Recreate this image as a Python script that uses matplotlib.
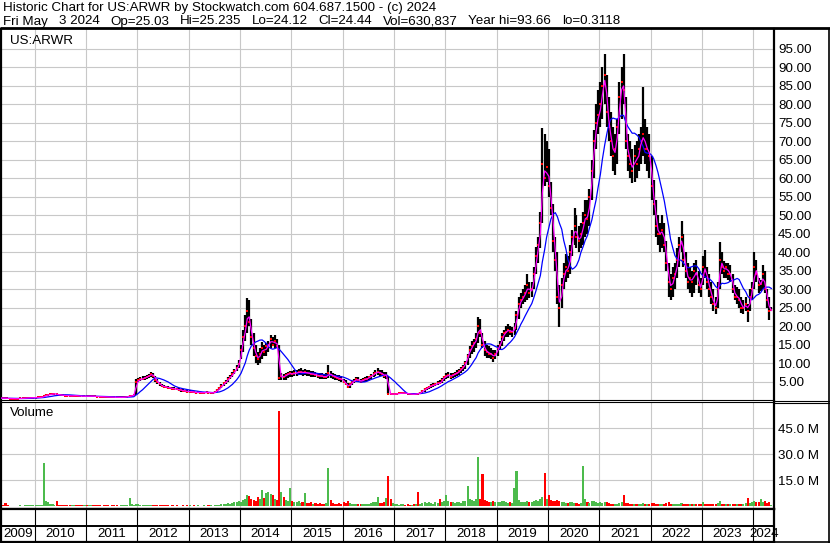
import numpy as np
import pandas as pd
import matplotlib
matplotlib.use("Agg")
import matplotlib.pyplot as plt
from matplotlib.lines import Line2D

# ---------------- data (semi-monthly bars) ----------------
start_date = "2009-05-01"

close = [
    # 2009 (May-Dec)
    0.50, 0.48, 0.45, 0.42, 0.40, 0.38, 0.36, 0.35, 0.38, 0.42, 0.45, 0.50, 0.55, 0.58, 0.60, 0.62,
    # 2010
    0.65, 0.70, 0.72, 0.75, 1.00, 1.30, 1.40, 1.50, 1.65, 1.70, 1.50, 1.40, 1.30, 1.25, 1.20, 1.15, 1.10, 1.12, 1.20, 1.15, 1.10, 1.05, 1.00, 1.02,
    # 2011
    1.00, 1.02, 1.05, 1.00, 0.95, 0.92, 0.90, 0.88, 0.85, 0.82, 0.80, 0.80, 0.78, 0.75, 0.72, 0.70, 0.70, 0.72, 0.80, 0.90, 1.10, 1.20, 1.30, 5.00,
    # 2012
    5.30, 5.60, 5.80, 6.00, 6.30, 6.50, 7.00, 6.60, 5.50, 4.80, 4.20, 3.80, 3.60, 3.50, 3.30, 3.20, 3.10, 3.00, 2.90, 2.80, 2.60, 2.50, 2.40, 2.30,
    # 2013
    2.30, 2.20, 2.10, 2.00, 2.10, 2.00, 1.95, 2.00, 2.10, 2.00, 2.00, 1.90, 2.20, 2.60, 3.20, 3.80, 4.50, 5.00, 5.70, 6.30, 7.00, 7.80, 8.60, 9.80,
    # 2014
    13.5, 17.0, 20.0, 24.0, 21.0, 17.0, 14.0, 12.0, 11.0, 12.5, 14.0, 13.0, 14.5, 15.0, 16.5, 15.0, 16.0, 14.5, 6.0, 6.5, 6.2, 6.8, 7.0, 7.2,
    # 2015
    7.0, 7.2, 7.4, 7.5, 7.6, 7.4, 7.5, 7.3, 7.2, 7.0, 7.0, 6.8, 6.6, 6.5, 6.4, 6.3, 6.3, 7.2, 6.8, 6.5, 6.2, 6.0, 5.8, 5.6,
    # 2016
    5.0, 4.3, 3.6, 4.2, 4.8, 5.2, 5.6, 5.4, 5.0, 5.4, 5.6, 5.8, 6.2, 6.5, 7.0, 7.4, 7.6, 7.3, 7.0, 6.5, 6.8, 1.7, 1.6, 1.6,
    # 2017
    1.6, 1.7, 1.8, 1.8, 1.9, 1.8, 1.7, 1.6, 1.6, 1.5, 1.75, 1.7, 2.0, 2.4, 2.9, 3.2, 3.6, 3.9, 4.0, 4.2, 4.6, 4.5, 5.5, 6.2,
    # 2018
    6.5, 6.8, 6.3, 6.8, 7.0, 7.3, 7.8, 8.4, 9.0, 10.0, 12.0, 13.5, 14.5, 15.5, 16.5, 20.0, 18.0, 15.0, 13.5, 13.0, 12.5, 12.5, 11.5, 12.5,
    # 2019
    14.0, 15.0, 17.0, 18.0, 18.5, 19.0, 18.5, 18.5, 19.5, 23.0, 26.0, 27.0, 28.0, 29.0, 31.0, 29.0, 30.0, 34.0, 39.0, 42.0, 48.0, 64.0, 60.0, 63.0,
    # 2020
    58, 52, 43, 38, 28, 25, 31, 34, 36, 35, 40, 44, 47, 44, 43, 45, 48, 50, 49, 55, 62, 70, 75, 77,
    # 2021
    80, 85, 88, 78, 74, 70, 66, 68, 74, 82, 86, 84, 70, 66, 64, 62, 66, 64, 68, 70, 72, 68, 68, 66,
    # 2022
    58, 53, 47, 45, 45, 46, 42, 37, 32, 30, 33, 34, 38, 42, 44, 38, 35, 32, 33, 32, 35, 34, 31, 30,
    # 2023
    36, 35, 32, 30, 28, 26, 25, 30, 38, 36, 35, 36, 34, 34, 30, 28, 28, 27, 25, 25, 26, 24, 28, 30,
    # 2024 (Jan-May)
    36, 34, 31, 31.5, 34, 30, 27, 24, 24.44,
]

high = [
    0.56, 0.54, 0.50, 0.47, 0.45, 0.43, 0.40, 0.40, 0.44, 0.48, 0.52, 0.56, 0.62, 0.65, 0.67, 0.70,
    0.72, 0.76, 0.78, 0.82, 1.20, 1.50, 1.55, 1.65, 1.80, 1.85, 1.75, 1.55, 1.45, 1.38, 1.32, 1.28, 1.22, 1.25, 1.32, 1.28, 1.22, 1.16, 1.12, 1.12,
    1.10, 1.12, 1.15, 1.10, 1.05, 1.02, 1.00, 0.98, 0.95, 0.92, 0.90, 0.90, 0.88, 0.85, 0.82, 0.80, 0.80, 0.82, 0.92, 1.05, 1.25, 1.35, 1.45, 5.80,
    6.00, 6.20, 6.40, 6.60, 6.90, 7.10, 7.50, 7.20, 6.60, 5.60, 4.90, 4.40, 4.10, 3.90, 3.70, 3.60, 3.50, 3.40, 3.30, 3.20, 3.00, 2.90, 2.80, 2.70,
    2.60, 2.50, 2.40, 2.30, 2.40, 2.30, 2.25, 2.30, 2.40, 2.30, 2.30, 2.20, 2.50, 2.90, 3.60, 4.20, 5.00, 5.50, 6.30, 6.90, 7.70, 8.50, 9.50, 10.80,
    15.0, 19.0, 23.0, 27.7, 27.0, 22.0, 18.0, 15.0, 13.0, 14.0, 15.8, 15.0, 15.5, 16.0, 17.6, 17.0, 17.5, 16.5, 15.0, 7.3, 7.0, 7.3, 7.5, 7.8,
    7.8, 8.0, 8.2, 8.4, 8.6, 8.2, 8.3, 8.1, 8.0, 7.8, 7.8, 7.6, 7.4, 7.3, 7.2, 7.0, 7.2, 9.5, 7.8, 7.4, 7.1, 6.9, 6.7, 6.5,
    5.8, 5.4, 4.5, 4.6, 5.2, 5.8, 6.2, 6.2, 5.8, 6.0, 6.2, 6.4, 6.6, 7.0, 7.6, 8.0, 8.6, 8.2, 8.0, 7.6, 7.5, 6.6, 2.0, 1.9,
    1.9, 2.0, 2.0, 2.1, 2.1, 2.0, 1.9, 1.9, 1.8, 1.8, 1.9, 1.9, 2.2, 2.6, 3.2, 3.5, 3.9, 4.2, 4.5, 4.6, 5.2, 5.4, 6.0, 6.6,
    7.2, 7.5, 7.2, 7.4, 7.6, 8.0, 8.5, 9.0, 9.6, 10.5, 12.5, 14.5, 16.0, 16.5, 18.0, 22.5, 22.0, 18.0, 16.0, 15.0, 14.5, 14.0, 13.5, 13.5,
    15.0, 16.0, 18.0, 19.0, 20.0, 20.5, 20.0, 19.8, 20.8, 24.0, 28.0, 29.0, 30.0, 31.0, 34.0, 32.0, 32.0, 36.0, 41.4, 44.0, 51.0, 73.7, 72.0, 70.0,
    68, 59, 53, 44, 40, 31, 33, 37, 39.5, 39, 42, 46, 52, 50, 47, 48, 51, 54, 54, 57, 65, 73, 80, 84,
    86, 90, 93.66, 88, 82, 78, 74, 72, 76, 86, 90, 93.5, 82, 72, 70, 68, 69, 70, 72, 74, 84.7, 76, 74, 72,
    66, 59.5, 54, 50, 48, 50, 48, 43, 37, 34, 36, 37, 41, 44, 48.5, 45, 40, 37, 36, 35, 37, 38, 35, 33,
    39, 40.5, 36, 34, 32, 30, 28, 32, 42.8, 40, 37.5, 37, 37, 36.5, 34, 31, 30.5, 30, 28, 27, 28, 26, 30, 32,
    40.1, 38, 33, 32.4, 36.5, 35, 30, 27.8, 25.235,
]

low = [
    0.44, 0.42, 0.40, 0.37, 0.35, 0.33, 0.3118, 0.32, 0.34, 0.37, 0.40, 0.45, 0.49, 0.52, 0.54, 0.56,
    0.60, 0.64, 0.66, 0.70, 0.74, 1.00, 1.25, 1.35, 1.45, 1.55, 1.40, 1.30, 1.20, 1.15, 1.10, 1.05, 1.00, 1.02, 1.08, 1.05, 1.00, 0.95, 0.92, 0.93,
    0.92, 0.94, 0.96, 0.92, 0.88, 0.85, 0.83, 0.80, 0.78, 0.75, 0.73, 0.72, 0.70, 0.68, 0.65, 0.63, 0.63, 0.65, 0.70, 0.80, 0.95, 1.08, 1.18, 1.40,
    4.80, 5.10, 5.30, 5.50, 5.80, 6.00, 6.30, 6.00, 5.00, 4.40, 3.90, 3.50, 3.30, 3.20, 3.00, 2.90, 2.80, 2.70, 2.60, 2.50, 2.30, 2.20, 2.10, 2.00,
    2.00, 1.90, 1.80, 1.70, 1.80, 1.70, 1.65, 1.70, 1.80, 1.70, 1.70, 1.60, 1.80, 2.20, 2.70, 3.20, 3.90, 4.40, 5.00, 5.60, 6.30, 7.00, 7.80, 8.60,
    11.0, 13.0, 16.0, 18.0, 20.0, 15.0, 12.0, 10.0, 9.5, 10.0, 11.0, 12.0, 12.0, 13.0, 14.0, 14.5, 14.0, 14.0, 5.4, 5.5, 5.4, 5.5, 6.0, 6.2,
    6.2, 6.5, 6.6, 6.8, 6.8, 6.6, 6.7, 6.5, 6.4, 6.2, 6.2, 6.1, 5.9, 5.8, 5.7, 5.6, 5.7, 6.0, 6.0, 5.8, 5.5, 5.3, 5.1, 5.0,
    4.5, 4.0, 3.2, 3.3, 4.0, 4.5, 4.8, 5.0, 4.6, 4.8, 5.0, 5.2, 5.4, 5.6, 6.2, 6.5, 6.8, 6.5, 6.5, 6.0, 5.8, 1.5, 1.4, 1.4,
    1.4, 1.5, 1.5, 1.6, 1.6, 1.6, 1.5, 1.5, 1.4, 1.4, 1.4, 1.5, 1.6, 1.9, 2.3, 2.7, 3.0, 3.3, 3.6, 3.8, 4.0, 4.2, 4.5, 5.2,
    5.8, 6.0, 5.8, 6.0, 6.2, 6.5, 6.8, 7.3, 7.8, 8.5, 9.5, 11.5, 12.5, 13.0, 14.0, 15.5, 17.0, 14.0, 12.0, 11.5, 11.5, 11.0, 10.4, 11.0,
    12.0, 13.5, 14.5, 16.0, 17.0, 17.0, 17.5, 17.0, 17.5, 19.0, 22.0, 25.0, 26.0, 26.5, 27.0, 27.5, 28.0, 30.0, 34.0, 37.0, 41.0, 48.0, 58.0, 59.0,
    55, 50, 40, 35, 26, 19.7, 25, 30, 32, 33, 34, 39, 42, 41, 40, 41, 42, 44, 45, 47, 54, 60, 68, 72,
    74, 76, 80, 74, 70, 66, 62, 61, 64, 72, 76, 80, 68, 62, 60, 58.6, 59, 60, 62, 64, 66, 64, 62, 60,
    54, 50, 44, 42, 40, 41, 40, 35, 28, 27, 28, 30, 33, 36, 40, 36, 33, 30, 29, 28, 29, 31, 29, 28,
    31, 33, 30, 28, 26, 24, 23.4, 25, 30, 34, 33, 33, 32.5, 32, 29, 27, 26, 25, 23.5, 23.4, 24, 21, 24, 27,
    30, 32, 29, 29.5, 30, 29, 25, 21.6, 24.12,
]

volume_m = [
    0.5, 0.6, 1.7, 0.5, 0.4, 0.4, 0.3, 0.3, 0.4, 0.5, 0.4, 0.5, 0.6, 0.5, 0.5, 0.6,
    0.6, 0.7, 0.6, 0.8, 24.8, 3.0, 2.5, 1.5, 1.2, 1.0, 3.0, 1.0, 0.8, 0.7, 0.6, 0.8, 0.6, 0.5, 0.7, 0.6, 0.5, 0.6, 0.5, 0.6,
    0.5, 0.6, 0.5, 0.7, 0.5, 0.6, 0.5, 0.4, 0.5, 0.6, 0.5, 0.4, 0.5, 0.6, 0.5, 0.4, 0.5, 0.6, 0.8, 0.9, 4.6, 1.2, 1.0, 1.5,
    1.2, 0.8, 0.7, 0.6, 0.8, 0.7, 0.9, 0.6, 0.7, 0.5, 0.6, 0.5, 0.5, 0.6, 0.5, 0.4, 0.5, 0.4, 0.5, 0.4, 0.4, 0.5, 0.4, 0.5,
    0.5, 0.4, 0.5, 0.4, 0.5, 0.4, 0.4, 0.5, 0.4, 0.5, 0.5, 0.4, 0.7, 0.9, 1.0, 1.2, 1.5, 1.4, 1.8, 1.6, 2.0, 2.4, 2.2, 2.8,
    2.5, 3.5, 4.5, 6.5, 6.0, 4.5, 3.5, 3.0, 5.6, 4.0, 9.4, 5.0, 7.5, 8.1, 7.1, 6.5, 4.0, 3.5, 55.0, 8.0, 5.6, 3.5, 3.0, 10.4,
    3.0, 2.5, 2.2, 2.8, 2.0, 2.5, 7.5, 2.0, 1.8, 2.2, 1.6, 1.8, 1.5, 2.0, 1.6, 1.4, 2.0, 21.9, 3.5, 2.0, 1.6, 1.5, 1.8, 1.4,
    2.5, 2.0, 2.8, 1.8, 1.5, 1.6, 1.4, 1.2, 1.5, 1.3, 1.2, 1.6, 1.5, 1.8, 2.2, 2.5, 5.6, 2.0, 1.8, 2.2, 5.0, 17.5, 4.0, 2.0,
    1.5, 1.2, 1.0, 1.3, 1.1, 1.0, 1.2, 0.9, 1.0, 1.2, 1.5, 8.1, 1.5, 2.0, 2.5, 1.8, 2.2, 2.0, 1.6, 2.4, 2.0, 4.2, 2.5, 3.0,
    6.5, 3.0, 2.5, 2.2, 2.0, 2.5, 2.2, 2.0, 2.8, 3.0, 11.9, 4.0, 3.5, 3.0, 4.5, 28.7, 4.0, 18.7, 3.5, 3.0, 2.5, 2.2, 3.0, 2.5,
    2.5, 2.2, 3.0, 2.8, 2.5, 2.0, 2.2, 2.0, 10.4, 20.4, 3.5, 2.5, 2.5, 2.2, 2.8, 2.4, 2.2, 3.0, 3.5, 3.2, 4.0, 5.6, 19.2, 4.0,
    6.5, 3.5, 3.0, 2.8, 3.5, 3.0, 2.5, 2.2, 2.0, 1.8, 2.5, 2.2, 2.0, 1.8, 1.6, 2.0, 23.5, 4.0, 2.5, 2.0, 2.8, 3.0, 2.2, 2.0,
    2.5, 2.0, 2.2, 2.5, 1.8, 1.6, 1.5, 1.4, 1.6, 2.0, 2.2, 6.5, 2.0, 1.8, 1.5, 1.4, 1.3, 1.2, 1.5, 1.4, 2.0, 1.6, 1.4, 1.3,
    2.0, 1.8, 1.6, 1.5, 1.4, 1.3, 1.5, 1.8, 2.2, 1.6, 1.5, 1.3, 1.4, 1.6, 2.0, 1.5, 1.3, 1.2, 1.4, 1.3, 1.5, 1.4, 1.3, 1.2,
    2.3, 1.5, 1.4, 1.3, 1.5, 1.6, 1.4, 1.8, 3.0, 1.6, 1.4, 1.3, 1.2, 1.3, 1.4, 1.2, 1.3, 1.5, 1.4, 1.6, 1.8, 4.6, 2.0, 2.2,
    3.0, 2.5, 2.2, 4.4, 2.5, 2.8, 2.0, 2.5, 0.63,
]

price_ticks = [5, 10, 15, 20, 25, 30, 35, 40, 45, 50, 55, 60, 65, 70, 75, 80, 85, 90, 95]
volume_ticks = [15, 30, 45]
year_labels = list(range(2009, 2025))

header1 = "Historic Chart for US:ARWR by Stockwatch.com 604.687.1500 - (c) 2024"
header2_parts = ["Fri May", "3 2024", "Op=25.03", "Hi=25.235", "Lo=24.12",
                 "Cl=24.44", "Vol=630,837", "Year hi=93.66", "lo=0.3118"]

n = len(close)
assert len(high) == n and len(low) == n and len(volume_m) == n

df = pd.DataFrame({"close": close, "high": high, "low": low, "vol": volume_m})
df["date"] = pd.date_range(start_date, periods=n, freq="SMS") + pd.Timedelta(days=7)
df["ma_fast"] = df["close"].rolling(2, min_periods=1).mean()
df["ma_slow"] = df["close"].rolling(10, min_periods=1).mean()
up = df["close"].diff().fillna(0) >= 0

# ---------------- figure layout (pixel based) ----------------
W, H = 830, 543
FONT = "Liberation Sans"
FS = 9.6
plt.rcParams["font.family"] = [FONT, "DejaVu Sans"]
fig = plt.figure(figsize=(W / 100, H / 100), dpi=100)
fig.patch.set_facecolor("white")


def rect(x0, y0, x1, y1):
    return [x0 / W, 1 - y1 / H, (x1 - x0) / W, (y1 - y0) / H]


def hline_px(y, x0, x1, lw):
    fig.add_artist(Line2D([x0 / W, x1 / W], [1 - y / H, 1 - y / H], color="black",
                          lw=lw, transform=fig.transFigure, solid_capstyle="butt"))


def vline_px(x, y0, y1, lw):
    fig.add_artist(Line2D([x / W, x / W], [1 - y0 / H, 1 - y1 / H], color="black",
                          lw=lw, transform=fig.transFigure, solid_capstyle="butt"))


ax = fig.add_axes(rect(1, 29, 774, 400))
axv = fig.add_axes(rect(1, 402, 774, 509))
axl = fig.add_axes(rect(1, 509, 774, 542))

x0 = pd.Timestamp("2009-05-07")
x1 = pd.Timestamp("2024-05-27")
year_starts = [pd.Timestamp(f"{y}-01-01") for y in range(2010, 2025)]
GRID = "#c8c8c8"

for a in (ax, axv, axl):
    a.set_xlim(x0, x1)
    a.set_facecolor("white")
    for s in a.spines.values():
        s.set_color("black")
        s.set_linewidth(0.8)

# ---- price panel ----
ax.set_ylim(0, 100.4)
ax.set_yticks(price_ticks)
ax.set_yticklabels([f"{v:.2f}" for v in price_ticks])
ax.yaxis.tick_right()
ax.tick_params(axis="y", length=0, pad=3, labelsize=FS, labelcolor="black")
ax.set_xticks(year_starts)
ax.tick_params(axis="x", length=0, labelbottom=False)
ax.grid(True, color=GRID, lw=0.8)
ax.set_axisbelow(True)
ax.spines["right"].set_linewidth(1.6)
ax.spines["left"].set_linewidth(1.6)
ax.spines["top"].set_visible(False)

ax.vlines(df["date"], df["low"], df["high"], color="black", lw=1.6, zorder=2)
ax.plot(df["date"], df["close"], ls="none", marker="s", ms=1.5, mew=0,
        color="#ff0000", zorder=3)
ax.plot(df["date"], df["ma_slow"], color="#0000ff", lw=0.9, zorder=4)
ax.plot(df["date"], df["ma_fast"], color="#ff00ff", lw=0.9, zorder=5)
ax.text(9 / 773, 1 - (41.5 - 29) / 371, "US:ARWR", transform=ax.transAxes,
        fontsize=FS, va="center", ha="left")

# ---- volume panel ----
axv.set_ylim(-1.56, 60.2)
axv.set_yticks(volume_ticks)
axv.set_yticklabels([f"{v:.1f} M" for v in volume_ticks])
axv.yaxis.tick_right()
axv.tick_params(axis="y", length=0, pad=3, labelsize=FS, labelcolor="black")
axv.set_xticks(year_starts)
axv.tick_params(axis="x", length=0, labelbottom=False)
axv.grid(True, color=GRID, lw=0.8)
axv.set_axisbelow(True)
axv.spines["right"].set_linewidth(1.6)
axv.spines["left"].set_linewidth(1.6)
axv.spines["bottom"].set_linewidth(1.6)
colors = np.where(up, "#4cbb4c", "#ff0000")
axv.bar(df["date"], df["vol"], width=15, color=colors, linewidth=0, zorder=2)
axv.text(9 / 773, 1 - (413 - 402) / 107, "Volume", transform=axv.transAxes,
         fontsize=FS, va="center", ha="left")

# ---- year label band ----
axl.set_ylim(0, 1)
axl.set_xticks([])
axl.set_yticks([])
axl.spines["right"].set_linewidth(1.6)
axl.spines["left"].set_linewidth(1.6)
axl.spines["top"].set_linewidth(1.6)
axl.spines["bottom"].set_linewidth(1.6)
for ys in year_starts:
    axl.axvline(ys, color="black", lw=0.8)
axl.axhline(0.5, color="black", lw=1.4)
for y in year_labels:
    c0 = max(pd.Timestamp(f"{y}-01-01"), x0)
    c1 = min(pd.Timestamp(f"{y + 1}-01-01"), x1)
    axl.text(c0 + (c1 - c0) / 2, 0.23, str(y), ha="center", va="center", fontsize=FS)

# ---- frame & header ----
hline_px(28, 0, W, 2.0)
hline_px(400.5, 774, W, 0.8)
hline_px(402.5, 774, W, 0.8)
vline_px(829.3, 28, H, 1.2)
hline_px(542.3, 0, W, 1.2)
fig.text(3 / W, 1 - 7.5 / H, header1, fontsize=FS, va="center", ha="left")

# second header line: pieces separated by wide gaps, spanning x = 3 .. 620 px
renderer = fig.canvas.get_renderer()
pieces = [fig.text(0, 1 - 21.5 / H, p, fontsize=FS, va="center", ha="left")
          for p in header2_parts]
widths = [t.get_window_extent(renderer).width for t in pieces]
gap = (620 - 3 - sum(widths)) / (len(pieces) - 1)
xpos = 3.0
for t, w in zip(pieces, widths):
    t.set_x(xpos / W)
    xpos += w + gap

fig.savefig("out.png", dpi=100, facecolor="white")
